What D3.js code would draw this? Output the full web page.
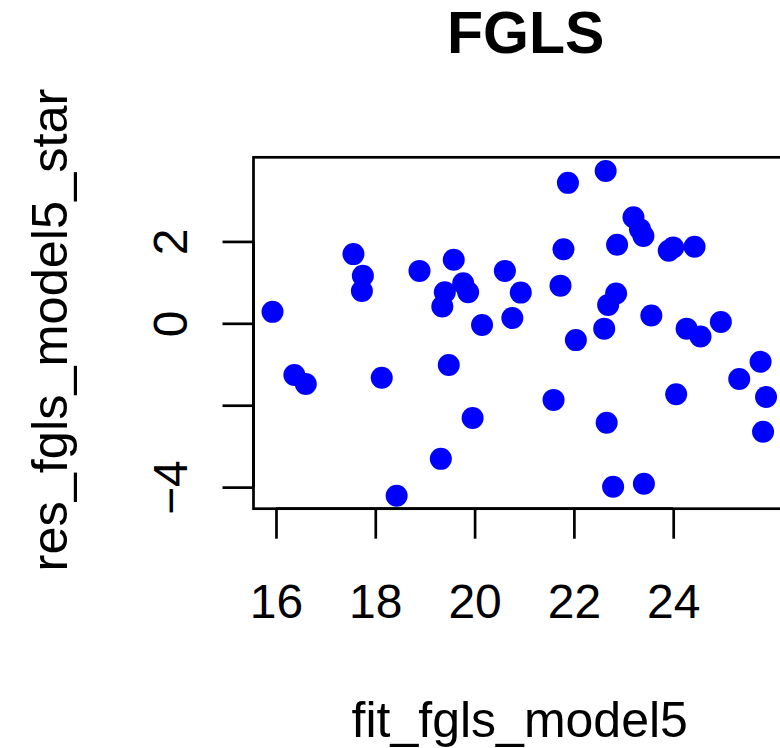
<!DOCTYPE html>
<html>
<head>
<meta charset="utf-8">
<script src="https://cdn.jsdelivr.net/npm/d3@7"></script>
<style>
  html, body { margin: 0; padding: 0; background: #fff; }
  svg { display: block; font-family: "Liberation Sans", Arial, sans-serif; }
</style>
</head>
<body>
<div id="chart"></div>
<script>
// fitted values (x) and residuals (y)
const fitted = [
  15.93, 17.56, 17.75, 17.73, 18.89, 19.58, 19.40, 19.77, 19.87, 19.35,
  20.15, 20.61, 20.93, 20.76, 21.88, 22.64, 23.20, 23.33, 23.40, 21.79,
  22.87, 23.91, 24.00, 24.43, 21.73, 22.85, 22.69, 23.56, 22.61, 22.04,
  24.27, 24.55, 24.96, 25.76, 25.33, 25.87, 25.81, 21.59, 22.66, 24.06,
  22.79, 23.41, 16.37, 16.60, 18.13, 19.48, 19.96, 19.32, 18.43
];
const residuals = [
  0.28, 1.69, 1.16, 0.79, 1.28, 1.55, 0.76, 0.98, 0.76, 0.41,
  -0.04, 1.28, 0.75, 0.13, 3.43, 3.72, 2.59, 2.30, 2.13, 1.81,
  1.92, 1.77, 1.85, 1.87, 0.92, 0.73, 0.45, 0.19, -0.13, -0.41,
  -0.13, -0.32, 0.03, -0.94, -1.36, -1.80, -2.65, -1.87, -2.43, -1.73,
  -3.99, -3.92, -1.26, -1.48, -1.33, -1.02, -2.31, -3.31, -4.21
];
const xTicks = [16, 18, 20, 22, 24];
const yTicks = [-4, -2, 0, 2];
const yTickLabels = ["\u22124", "", "0", "2"];

const width = 780, height = 748;
const plot = { left: 253.5, right: 786, top: 157.3, bottom: 508.7 };

const svg = d3.select("#chart")
  .append("svg")
  .attr("width", width)
  .attr("height", height);

const x = d3.scaleLinear().domain([15.547, 26.272]).range([plot.left, plot.right]);
const y = d3.scaleLinear().domain([-4.527, 4.054]).range([plot.bottom, plot.top]);

// box
svg.append("rect")
  .attr("x", plot.left)
  .attr("y", plot.top)
  .attr("width", plot.right - plot.left)
  .attr("height", plot.bottom - plot.top)
  .attr("fill", "none")
  .attr("stroke", "#000")
  .attr("stroke-width", 2.7);

// x axis (R style: ticks outward, labels well below)
const xAxis = d3.axisBottom(x).tickValues(xTicks).tickSize(30).tickPadding(45);
const gx = svg.append("g")
  .attr("transform", `translate(0,${plot.bottom})`)
  .call(xAxis);
gx.select(".domain")
  .attr("d", `M${x(xTicks[0])},0H${x(xTicks[xTicks.length - 1])}`)
  .attr("stroke-width", 2.7);
gx.selectAll(".tick line").attr("stroke-width", 2.7);
gx.selectAll(".tick text")
  .attr("font-size", 48)
  .attr("font-family", "Liberation Sans, Arial, sans-serif")
  .attr("fill", "#000");

// y axis, labels rotated like par(las = 0)
const yAxis = d3.axisLeft(y).tickValues(yTicks).tickSize(31).tickFormat((d, i) => yTickLabels[i]);
const gy = svg.append("g")
  .attr("transform", `translate(${plot.left},0)`)
  .call(yAxis);
gy.select(".domain")
  .attr("d", `M0,${y(yTicks[0])}V${y(yTicks[yTicks.length - 1])}`)
  .attr("stroke-width", 2.7);
gy.selectAll(".tick line").attr("stroke-width", 2.7);
gy.selectAll(".tick text")
  .attr("x", null)
  .attr("dy", null)
  .attr("text-anchor", "middle")
  .attr("transform", "translate(-67,0) rotate(-90)")
  .attr("font-size", 48)
  .attr("font-family", "Liberation Sans, Arial, sans-serif")
  .attr("fill", "#000");

// points
svg.append("g")
  .selectAll("circle")
  .data(fitted)
  .join("circle")
  .attr("cx", d => x(d))
  .attr("cy", (d, i) => y(residuals[i]))
  .attr("r", 11)
  .attr("fill", "#0000ff");

const midX = (plot.left + plot.right) / 2;
const midY = (plot.top + plot.bottom) / 2;

svg.append("text")
  .attr("x", midX + 6)
  .attr("y", 53)
  .attr("text-anchor", "middle")
  .style("font-size", "59px")
  .style("font-weight", "bold")
  .text("FGLS");

svg.append("text")
  .attr("x", midX)
  .attr("y", 737)
  .attr("text-anchor", "middle")
  .style("font-size", "50px")
  .text("fit_fgls_model5");

svg.append("text")
  .attr("transform", `translate(67,${midY - 3}) rotate(-90)`)
  .attr("text-anchor", "middle")
  .style("font-size", "50.5px")
  .text("res_fgls_model5_star");
</script>
</body>
</html>
